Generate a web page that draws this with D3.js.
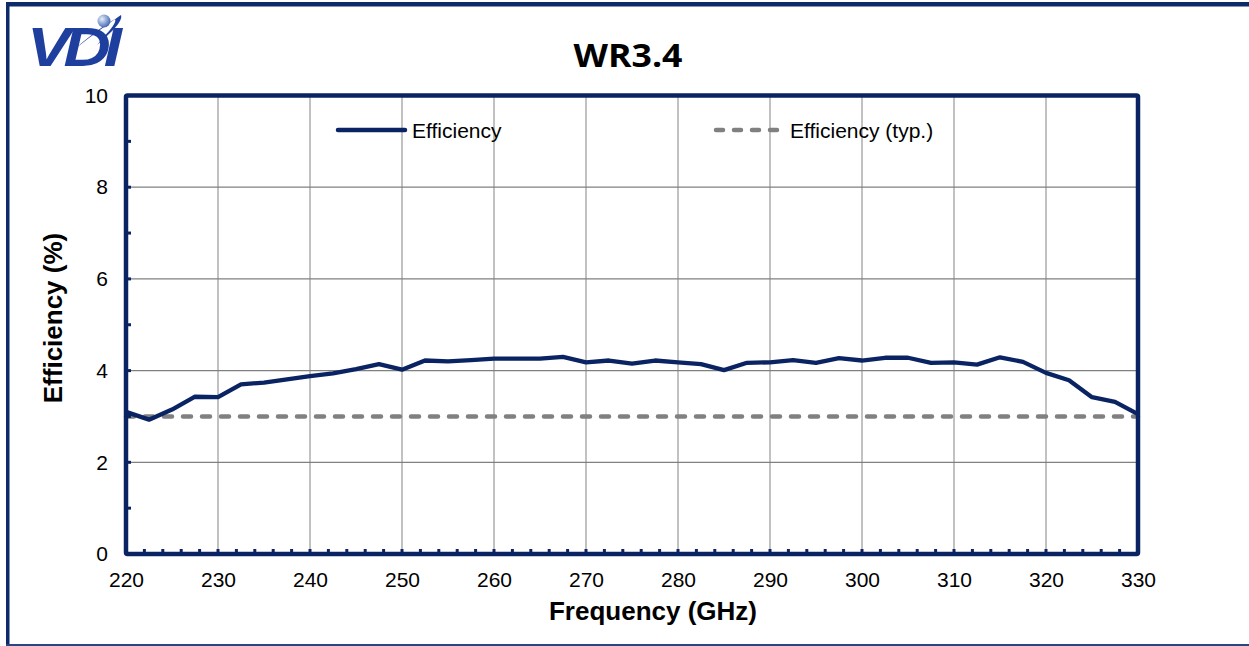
<!DOCTYPE html>
<html><head><meta charset="utf-8">
<script src="https://cdn.jsdelivr.net/npm/d3@7"></script>
<style>
html,body{margin:0;padding:0;background:#fff;}
svg{display:block;}
</style></head>
<body>
<svg id="chart" width="1249" height="646"></svg>
<script>
const title = "WR3.4";
const xLabel = "Frequency (GHz)";
const yLabel = "Efficiency (%)";
const seriesNames = ["Efficiency", "Efficiency (typ.)"];
const frequency = [220,222.5,225,227.5,230,232.5,235,237.5,240,242.5,245,247.5,250,252.5,255,257.5,260,262.5,265,267.5,270,272.5,275,277.5,280,282.5,285,287.5,290,292.5,295,297.5,300,302.5,305,307.5,310,312.5,315,317.5,320,322.5,325,327.5,330];
const efficiency = [3.10,2.93,3.15,3.43,3.42,3.70,3.74,3.81,3.88,3.94,4.03,4.14,4.02,4.22,4.20,4.23,4.26,4.26,4.26,4.30,4.18,4.22,4.15,4.22,4.18,4.14,4.01,4.17,4.18,4.23,4.17,4.27,4.22,4.28,4.28,4.17,4.18,4.13,4.29,4.19,3.95,3.79,3.42,3.32,3.05];
const typFreq = [220, 330];
const typEff = [3, 3];
const xTicks = [220,230,240,250,260,270,280,290,300,310,320,330];
const yTicks = [0,2,4,6,8,10];

const svg = d3.select("#chart");
const navy = "#0a2463";
const L = 126, R = 1138, T = 95.5, B = 554;

const x = d3.scaleLinear().domain([220,330]).range([L,R]);
const y = d3.scaleLinear().domain([0,10]).range([B,T]);

// outer frame
svg.append("rect").attr("x",6).attr("y",2).attr("width",1243).attr("height",4.5).attr("fill","#0d2a6b");
svg.append("rect").attr("x",6).attr("y",2).attr("width",3.5).attr("height",644).attr("fill","#0d2a6b");
svg.append("rect").attr("x",6).attr("y",644).attr("width",1243).attr("height",2).attr("fill","#2a4680");

// logo
const logo = svg.append("g");
logo.append("text").attr("x",27).attr("y",66).attr("font-family","Liberation Sans, Arial").attr("font-weight","bold")
  .attr("font-style","italic").attr("font-size",56).attr("letter-spacing",-6).attr("fill","#1f3f9e")
  .attr("textLength",88).attr("lengthAdjust","spacingAndGlyphs").text("VDI");
logo.append("path").attr("d","M62,60 C85,40 108,24 121,15 C123,21 113,31 97,45 C109,31 117,23 115,19 C101,27 82,42 62,60 Z").attr("fill","#1f3f9e");
const grad = svg.append("defs").append("radialGradient").attr("id","sph").attr("cx","35%").attr("cy","35%").attr("r","65%");
grad.append("stop").attr("offset","0%").attr("stop-color","#e8eef8");
grad.append("stop").attr("offset","100%").attr("stop-color","#4a6fb8");
logo.append("circle").attr("cx",104).attr("cy",21).attr("r",6.5).attr("fill","url(#sph)");

// title
svg.append("text").attr("x",628).attr("y",67).attr("text-anchor","middle")
  .attr("font-family","Open Sans, sans-serif").attr("font-weight","bold").attr("font-size",32)
  .attr("textLength",109).attr("lengthAdjust","spacingAndGlyphs").attr("fill","#000").text(title);

// gridlines
const grid = svg.append("g");
grid.selectAll("line.v").data(xTicks.slice(1,-1)).join("line")
  .attr("x1",d=>x(d)).attr("x2",d=>x(d)).attr("y1",T).attr("y2",B)
  .attr("stroke","#a0a0a0").attr("stroke-width",1.3);
grid.selectAll("line.h").data(yTicks.slice(1,-1)).join("line")
  .attr("x1",L).attr("x2",R).attr("y1",d=>y(d)).attr("y2",d=>y(d))
  .attr("stroke","#808080").attr("stroke-width",1.3);

// axes (tick labels)
const font = "Liberation Sans, Arial, sans-serif";
const xAxis = svg.append("g").attr("transform",`translate(0,${B})`)
  .call(d3.axisBottom(x).tickValues(xTicks).tickSize(0).tickPadding(18).tickFormat(d3.format("d")));
xAxis.select(".domain").remove();
xAxis.selectAll("text").attr("font-family",font).attr("font-size",21).attr("fill","#000");
const yAxis = svg.append("g").attr("transform",`translate(${L},0)`)
  .call(d3.axisLeft(y).tickValues(yTicks).tickSize(0).tickPadding(18).tickFormat(d3.format("d")));
yAxis.select(".domain").remove();
yAxis.selectAll("text").attr("font-family",font).attr("font-size",21).attr("fill","#000");

// dashed typical line
const line = d3.line().x(d=>x(d[0])).y(d=>y(d[1]));
svg.append("path").datum(typFreq.map((f,i)=>[f,typEff[i]])).attr("d",line)
  .attr("fill","none").attr("stroke","#808080").attr("stroke-width",4.5)
  .attr("stroke-dasharray","8,11").attr("stroke-linecap","round");

// efficiency line
svg.append("path").datum(frequency.map((f,i)=>[f,efficiency[i]])).attr("d",line)
  .attr("fill","none").attr("stroke",navy).attr("stroke-width",4.3).attr("stroke-linejoin","round");

// plot frame
svg.append("rect").attr("x",L).attr("y",T).attr("width",R-L).attr("height",B-T)
  .attr("fill","none").attr("stroke",navy).attr("stroke-width",4.5).attr("rx",1.5);

// minor ticks (inward)
const xMinor = d3.range(222,330,2);
svg.selectAll("rect.xt").data(xMinor).join("rect")
  .attr("x",d=>x(d)-1.5).attr("y",B-5).attr("width",3).attr("height",4).attr("fill",navy);
const yMinor = d3.range(1,10,1);
svg.selectAll("rect.yt").data(yMinor).join("rect")
  .attr("x",L+1).attr("y",d=>y(d)-1.5).attr("width",4).attr("height",3).attr("fill",navy);

// legend
const lg = svg.append("g");
lg.append("line").attr("x1",338).attr("x2",405).attr("y1",130).attr("y2",130)
  .attr("stroke",navy).attr("stroke-width",4.5).attr("stroke-linecap","round");
lg.append("text").attr("x",412).attr("y",137.5).attr("font-family",font).attr("font-size",21).attr("fill","#000").text(seriesNames[0]);
lg.append("line").attr("x1",716).attr("x2",780).attr("y1",130).attr("y2",130)
  .attr("stroke","#808080").attr("stroke-width",4.5).attr("stroke-linecap","round").attr("stroke-dasharray","7,11");
lg.append("text").attr("x",790).attr("y",137.5).attr("font-family",font).attr("font-size",21).attr("fill","#000").text(seriesNames[1]);

// axis titles
svg.append("text").attr("x",653).attr("y",620).attr("text-anchor","middle")
  .attr("font-family",font).attr("font-weight","bold").attr("font-size",26).attr("fill","#000").text(xLabel);
svg.append("text").attr("transform","translate(62,318) rotate(-90)").attr("text-anchor","middle")
  .attr("font-family",font).attr("font-weight","bold").attr("font-size",26).attr("fill","#000").text(yLabel);
</script>
</body></html>
